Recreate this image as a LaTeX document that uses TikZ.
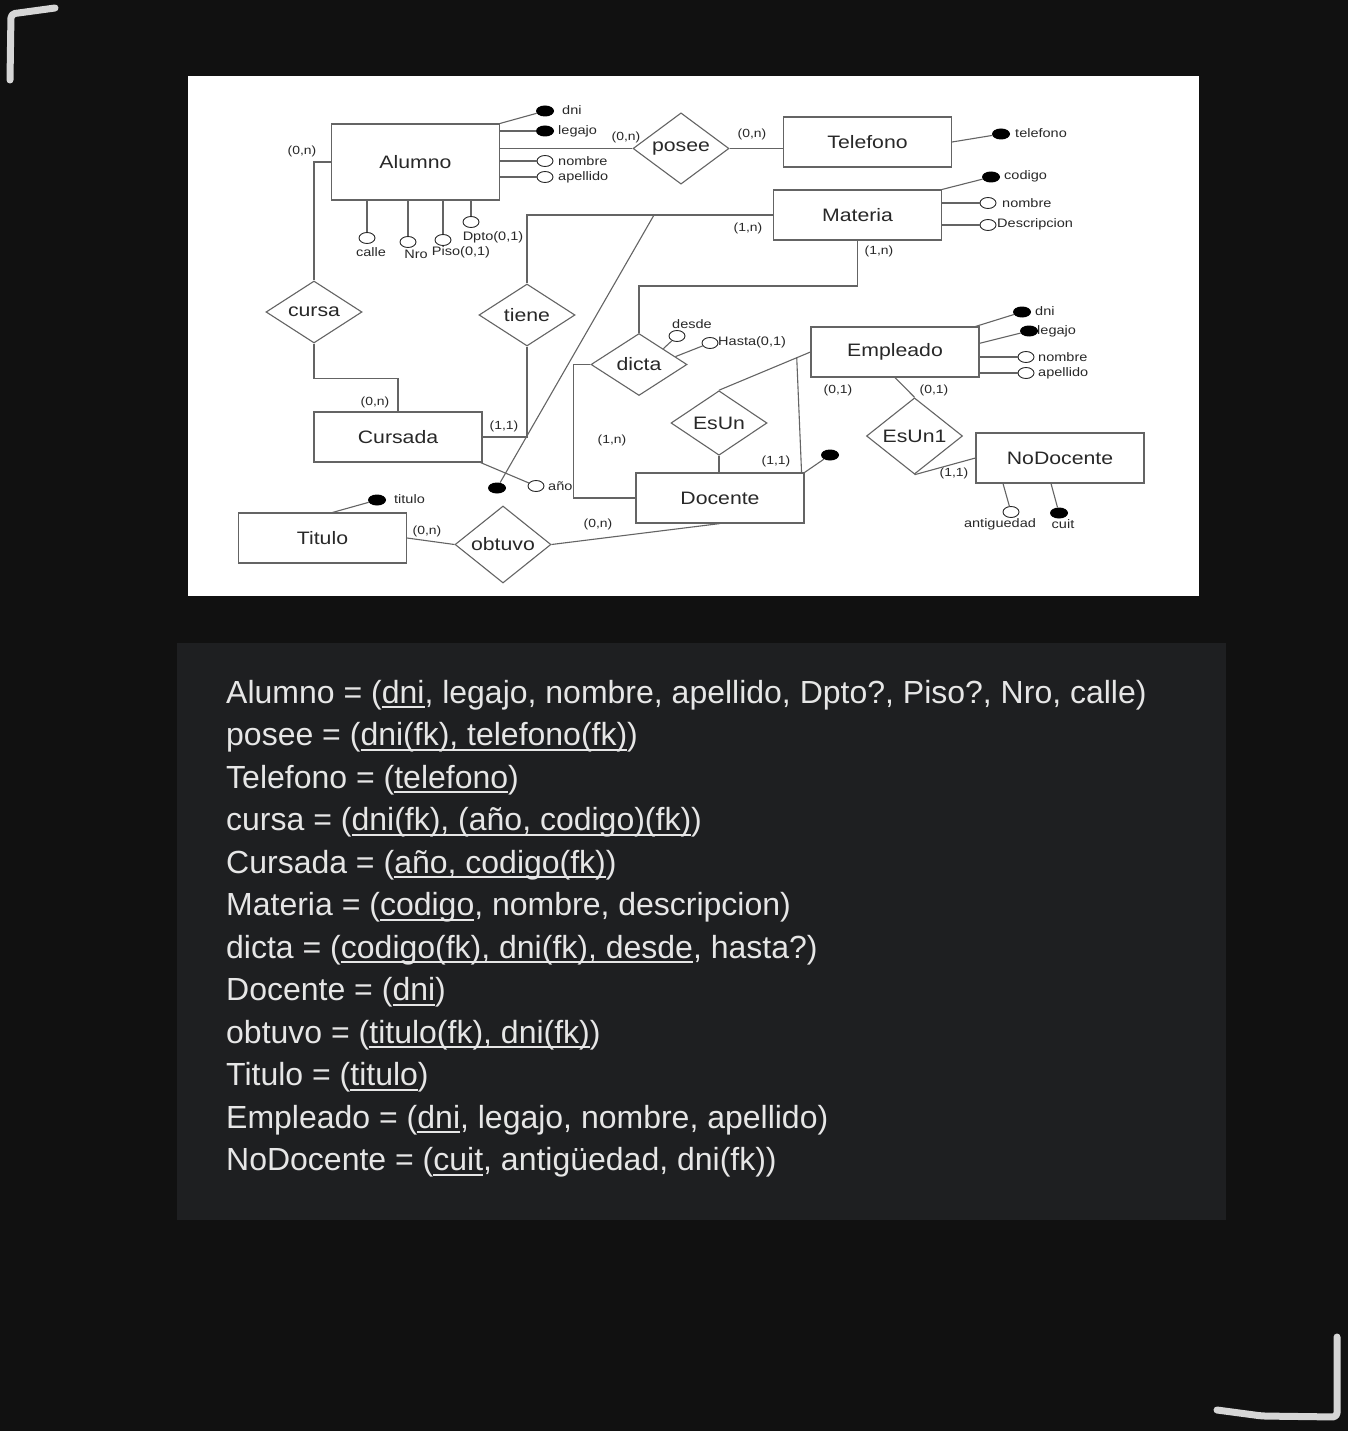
\documentclass[tikz,border=0pt]{standalone}
\usepackage{fontspec}
\setmainfont{Liberation Sans}
\newfontfamily\diagfont{Liberation Sans}[FakeStretch=1.18]
\usepackage{tikz}
\usetikzlibrary{positioning, calc, shapes.geometric}
\definecolor{page}{RGB}{17,17,17}
\definecolor{panel}{RGB}{30,31,33}
\definecolor{ink}{RGB}{40,40,40}
\definecolor{edge}{RGB}{100,100,100}
\definecolor{chalk}{RGB}{230,230,230}
\definecolor{pen}{RGB}{214,214,214}
\newcommand{\uln}[1]{\setbox0=\hbox{#1}\rlap{\rule[-5pt]{\wd0}{1.7pt}}\box0}
\tikzset{
  entity/.style={draw=edge,line width=1.1pt,fill=white,minimum width=168pt,
    minimum height=50pt,inner sep=0pt,font=\diagfont\fontsize{18}{21}\selectfont,text=ink},
  rel/.style={diamond,draw=edge,line width=1.1pt,fill=white,minimum width=96pt,
    minimum height=62pt,inner sep=0pt,font=\diagfont\fontsize{18}{21}\selectfont,text=ink},
  pkdot/.style={ellipse,fill=black,minimum width=18pt,minimum height=11pt,inner sep=0pt},
  attdot/.style={ellipse,draw=black!85,line width=0.9pt,fill=white,minimum width=16pt,
    minimum height=11pt,inner sep=0pt},
  attr/.style={font=\diagfont\fontsize{12.3}{14}\selectfont,text=ink,inner sep=0pt},
  card/.style={font=\diagfont\fontsize{11.8}{14}\selectfont,text=ink,inner sep=0pt},
  link/.style={draw=edge,line width=1.1pt},
  schemarow/.style={anchor=base west,inner sep=0pt,text=chalk,
    font=\fontsize{32}{38}\selectfont},
  cornermark/.style={draw=pen,line width=7pt,line cap=round,line join=round,rounded corners=4pt},
}

\begin{document}
\begin{tikzpicture}[x=1pt,y=-1pt]
  \useasboundingbox (0,0) rectangle (1348,1431);
  \fill[page] (0,0) rectangle (1348,1431);
  \fill[panel] (177,643) rectangle (1226,1220);
  \fill[white] (188,76) rectangle (1199,596);
  % corner marks
  \draw[cornermark] (10,80) -- (11,14) -- (55,8);
  \draw[cornermark] (1337,1337) -- (1337,1417) -- (1262,1416) -- (1217,1410);

  % entities
  \node[entity,minimum height=76pt] (alumno) at (415.5,162) {Alumno};
  \node[entity] (telefono) at (867.5,142) {Telefono};
  \node[entity] (materia) at (857.5,215) {Materia};
  \node[entity] (empleado) at (895,352) {Empleado};
  \node[entity] (cursada) at (398,437) {Cursada};
  \node[entity] (docente) at (720,498) {Docente};
  \node[entity] (nodocente) at (1060,458) {NoDocente};
  \node[entity] (titulo) at (322.5,538) {Titulo};

  % relationships
  \node[rel] (posee) at (681,148.5) {posee};
  \node[rel] (cursa) at (314,312) {cursa};
  \node[rel] (tiene) at (527,315) {tiene};
  \node[rel] (dicta) at (639,364.5) {dicta};
  \node[rel] (esun) at (719,423) {EsUn};
  \node[rel] (esun1) at (914.5,436) {EsUn1};
  \node[rel] (obtuvo) at (503,544.5) {obtuvo};

  % attributes of Alumno
  \node[pkdot] (aDni) at (545,111) {};
  \node[pkdot] (aLegajo) at (545,131) {};
  \node[attdot] (aNombre) at (545,161) {};
  \node[attdot] (aApellido) at (545,177) {};
  \node[attr,anchor=west] (aDniT) at (562,110) {dni};
  \node[attr,anchor=west] (aLegajoT) at (558,131) {legajo};
  \node[attr,anchor=west] (aNombreT) at (558,161) {nombre};
  \node[attr,anchor=west] (aApellidoT) at (558,177) {apellido};
  \node[attdot] (aCalle) at (367,238) {};
  \node[attdot] (aNro) at (408,242) {};
  \node[attdot] (aPiso) at (443,240) {};
  \node[attdot] (aDpto) at (471,222) {};
  \node[attr] (aCalleT) at (371,252) {calle};
  \node[attr] (aNroT) at (416,254) {Nro};
  \node[attr] (aPisoT) at (461,252) {Piso(0,1)};
  \node[attr] (aDptoT) at (493,237) {Dpto(0,1)};

  % attributes of Telefono and Materia
  \node[pkdot] (tTel) at (1001,134) {};
  \node[attr,anchor=west] (tTelT) at (1015,133) {telefono};
  \node[pkdot] (mCodigo) at (991,177) {};
  \node[attdot] (mNombre) at (988,203) {};
  \node[attdot] (mDesc) at (988,225) {};
  \node[attr,anchor=west] (mCodigoT) at (1004,176) {codigo};
  \node[attr,anchor=west] (mNombreT) at (1002,203) {nombre};
  \node[attr,anchor=west] (mDescT) at (997,224) {Descripcion};

  % attributes of dicta, Cursada, Docente
  \node[attdot] (dDesde) at (677,336) {};
  \node[attdot] (dHasta) at (710,343) {};
  \node[attr] (dDesdeT) at (692,324) {desde};
  \node[attr,anchor=west] (dHastaT) at (718,342) {Hasta(0,1)};
  \node[attdot] (cAno) at (536,486) {};
  \node[pkdot] (cKey) at (497,488) {};
  \node[attr,anchor=west] (cAnoT) at (548,486) {año};
  \node[pkdot] (docKey) at (830,455) {};

  % attributes of Empleado, NoDocente, Titulo
  \node[pkdot] (eDni) at (1022,312) {};
  \node[pkdot] (eLegajo) at (1029,331) {};
  \node[attdot] (eNombre) at (1026,357) {};
  \node[attdot] (eApellido) at (1026,373) {};
  \node[attr,anchor=west] (eDniT) at (1035,311) {dni};
  \node[attr,anchor=west] (eLegajoT) at (1037,331) {legajo};
  \node[attr,anchor=west] (eNombreT) at (1038,357) {nombre};
  \node[attr,anchor=west] (eApellidoT) at (1038,373) {apellido};
  \node[attdot] (nAnt) at (1011,512) {};
  \node[pkdot] (nCuit) at (1059,513) {};
  \node[attr] (nAntT) at (1000,524) {antiguedad};
  \node[attr] (nCuitT) at (1063,524) {cuit};
  \node[pkdot] (tTitulo) at (377,500) {};
  \node[attr,anchor=west] (tTituloT) at (394,499) {titulo};

  % cardinalities
  \node[card] (kAlumnoCursa) at (302,151) {(0,n)};
  \node[card] (kAlumnoPosee) at (626,137) {(0,n)};
  \node[card] (kTelefono) at (752,134) {(0,n)};
  \node[card] (kMateriaTiene) at (748,228) {(1,n)};
  \node[card] (kMateriaDicta) at (879,251) {(1,n)};
  \node[card] (kCursada) at (375,402) {(0,n)};
  \node[card] (kTiene) at (504,426) {(1,1)};
  \node[card] (kDicta) at (612,440) {(1,n)};
  \node[card] (kEmpleadoA) at (838,390) {(0,1)};
  \node[card] (kEmpleadoB) at (934,390) {(0,1)};
  \node[card] (kDocente) at (776,461) {(1,1)};
  \node[card] (kNoDocente) at (954,473) {(1,1)};
  \node[card] (kTitulo) at (427,531) {(0,n)};
  \node[card] (kObtuvo) at (598,524) {(0,n)};

  % connectors
  \draw[link] (alumno.north east) -- (aDni);
  \draw[link] (aLegajo -| alumno.east) -- (aLegajo);
  \draw[link] (posee.west -| alumno.east) -- (posee.west);
  \draw[link] (aNombre -| alumno.east) -- (aNombre);
  \draw[link] (aApellido -| alumno.east) -- (aApellido);
  \foreach \a in {aCalle,aNro,aPiso,aDpto}
    \draw[link] (\a |- alumno.south) -- (\a);
  \draw[link] (posee.east) -- (posee.east -| telefono.west);
  \draw[link] (telefono.east) -- (tTel);
  \draw[link] (materia.north east) -- (mCodigo);
  \draw[link] (mNombre -| materia.east) -- (mNombre);
  \draw[link] (mDesc -| materia.east) -- (mDesc);
  \draw[link] (alumno.west) -| (cursa.north);
  \draw[link] (cursa.south) -- ++(0,35) -| (cursada.north);
  \draw[link] (tiene.north) |- (materia.west);
  \draw[link] (tiene.south) |- (cursada.east);
  \coordinate (keyTop) at (654,215);
  \draw[link] (keyTop) -- (cKey);
  \draw[link] ([xshift=-2pt]cursada.south east) -- (cAno);
  \draw[link] (dicta.north) -- ++(0,-47) -| (materia.south);
  \draw[link] (dicta.west) -- ++(-17,0) |- (docente.west);
  \draw[link] (dicta.north east) -- (dDesde);
  \draw[link] ($(dicta.east)!0.25!(dicta.north)$) -- (dHasta);
  \draw[link] (esun.north) -- (empleado.west);
  \coordinate (isaJoin) at ($(esun.north)!0.85!(empleado.west)$);
  \draw[link] (isaJoin) -- ([xshift=-3pt]docente.north east);
  \draw[link] (esun.south) -- (docente.north -| esun.south);
  \draw[link] (docente.north east) -- (docKey);
  \draw[link] (esun1.north) -- (empleado.south);
  \draw[link] (esun1.south) -- (nodocente.west);
  \draw[link] ([xshift=-4pt]empleado.north east) -- (eDni);
  \draw[link] ($(empleado.north east)!0.33!(empleado.south east)$) -- (eLegajo);
  \draw[link] (eNombre -| empleado.east) -- (eNombre);
  \draw[link] (eApellido -| empleado.east) -- (eApellido);
  \draw[link] ([xshift=-57pt]nodocente.south) -- (nAnt);
  \draw[link] ([xshift=-9pt]nodocente.south) -- (nCuit);
  \draw[link] ([xshift=10pt]titulo.north) -- (tTitulo);
  \draw[link] (titulo.east) -- (obtuvo.west);
  \draw[link] (obtuvo.east) -- (docente.south);

  % relational schema
  \foreach \txt [count=\i from 0] in {
    {Alumno = (\uln{dni}, legajo, nombre, apellido, Dpto?, Piso?, Nro, calle)},
    {posee = (\uln{dni(fk), telefono(fk)})},
    {Telefono = (\uln{telefono})},
    {cursa = (\uln{dni(fk), (año, codigo)(fk)})},
    {Cursada = (\uln{año, codigo(fk)})},
    {Materia = (\uln{codigo}, nombre, descripcion)},
    {dicta = (\uln{codigo(fk), dni(fk), desde}, hasta?)},
    {Docente = (\uln{dni})},
    {obtuvo = (\uln{titulo(fk), dni(fk)})},
    {Titulo = (\uln{titulo})},
    {Empleado = (\uln{dni}, legajo, nombre, apellido)},
    {NoDocente = (\uln{cuit}, antigüedad, dni(fk))}}
    \node[schemarow] (row\i) at (226,{703+42.5*\i}) {\txt};
\end{tikzpicture}
\end{document}
